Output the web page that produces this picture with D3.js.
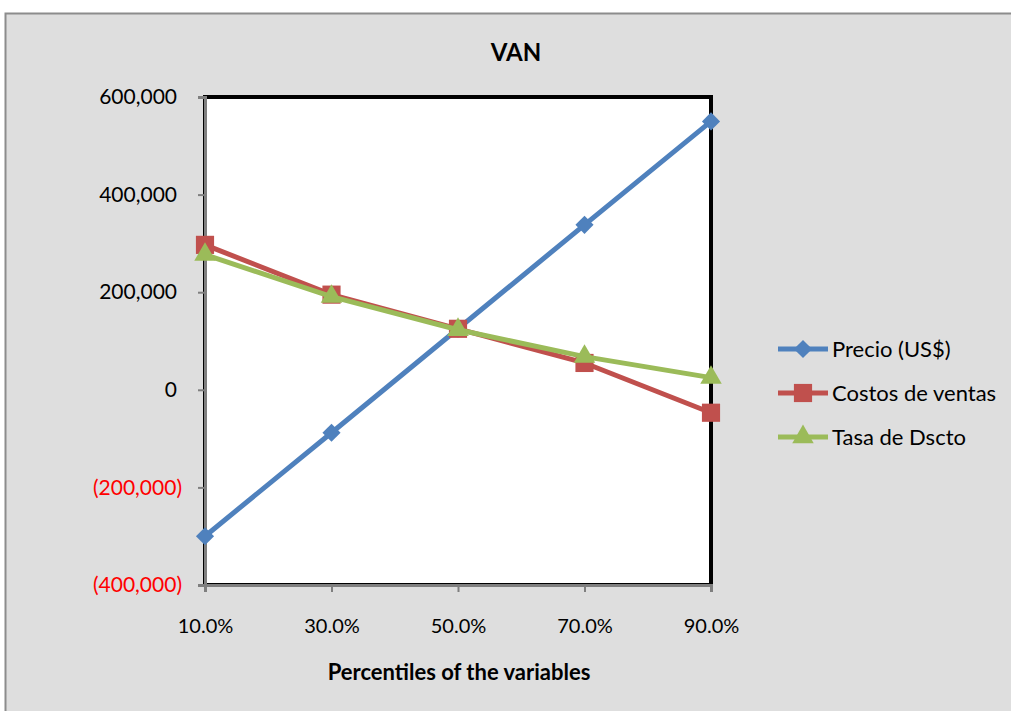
<!DOCTYPE html>
<html lang="es">
<head>
<meta charset="UTF-8">
<title>VAN</title>
<style>
    body { margin: 0; background: #fff; overflow: hidden; }
    svg text { font-family: Lato, "Open Sans", sans-serif; }
</style>
</head>
<body>
<script src="https://d3js.org/d3.v7.min.js"></script>
<script>
    // percentiles on the x axis
    const percentiles = [10, 30, 50, 70, 90];
    const precio = [-300000, -88000, 125000, 338000, 550000];
    const costos = [297000, 195000, 125000, 55000, -47000];
    const tasa = [277000, 191000, 123000, 68000, 25000];
    const yTicks = [-400000, -200000, 0, 200000, 400000, 600000];
    const seriesNames = ["Precio (US$)", "Costos de ventas", "Tasa de Dscto"];

    const width = 1011, height = 711;
    const plot = {left: 205, right: 711, top: 97, bottom: 585};

    const svg = d3.select('body').append('svg')
        .attr('width', width)
        .attr('height', height);

    // chart area background + frame (right/bottom edges fall outside)
    svg.append('rect')
        .attr('x', 5.5).attr('y', 13.5)
        .attr('width', width + 20).attr('height', height)
        .attr('fill', '#dedede')
        .attr('stroke', '#8c8c8c')
        .attr('stroke-width', 2);

    const x = d3.scaleLinear().domain([10, 90]).range([plot.left, plot.right]);
    const y = d3.scaleLinear().domain([-400000, 600000]).range([plot.bottom, plot.top]);

    svg.append('rect')
        .attr('x', plot.left).attr('y', plot.top)
        .attr('width', plot.right - plot.left).attr('height', plot.bottom - plot.top)
        .attr('fill', '#fff')
        .attr('stroke', '#000')
        .attr('stroke-width', 4);

    const fmt = v => {
        const s = d3.format(',')(Math.abs(v));
        return v < 0 ? '(' + s + ')' : s;
    };

    const yAxis = svg.append('g')
        .attr('transform', `translate(${plot.left},0)`)
        .call(d3.axisLeft(y).tickValues(yTicks).tickFormat(fmt).tickSize(7).tickPadding(16));
    yAxis.select('.domain').attr('stroke', '#7f7f7f').attr('stroke-width', 3);
    yAxis.selectAll('.tick line').attr('stroke', '#7f7f7f').attr('stroke-width', 2);
    yAxis.selectAll('.tick text')
        .attr('font-size', 21)
        .attr('dx', d => d < 0 ? 0 : -5)
        .attr('fill', d => d < 0 ? '#ff0000' : '#000');

    const xAxis = svg.append('g')
        .attr('transform', `translate(0,${plot.bottom})`)
        .call(d3.axisBottom(x).tickValues(percentiles).tickFormat(d => d.toFixed(1) + '%').tickSize(7).tickPadding(27));
    xAxis.select('.domain').attr('stroke', '#7f7f7f').attr('stroke-width', 3);
    xAxis.selectAll('.tick text').attr('font-size', 20).attr('fill', '#000');
    xAxis.selectAll('.tick line').attr('stroke', '#7f7f7f').attr('stroke-width', 2);

    svg.append('text')
        .attr('x', 516).attr('y', 61)
        .attr('text-anchor', 'middle')
        .attr('font-size', 24).attr('font-weight', 'bold')
        .text('VAN');

    svg.append('text')
        .attr('x', 459).attr('y', 680)
        .attr('text-anchor', 'middle')
        .attr('font-size', 22).attr('font-weight', 'bold')
        .text('Percentiles of the variables');

    const series = [
        {name: seriesNames[0], values: precio, color: '#4f81bd', marker: d3.symbolDiamond2, size: 210},
        {name: seriesNames[1], values: costos, color: '#c0504d', marker: d3.symbolSquare, size: 330},
        {name: seriesNames[2], values: tasa, color: '#9bbb59', marker: d3.symbolTriangle, size: 200}
    ];

    const line = d3.line()
        .x((d, i) => x(percentiles[i]))
        .y(d => y(d));

    series.forEach(s => {
        svg.append('path')
            .datum(s.values)
            .attr('fill', 'none')
            .attr('stroke', s.color)
            .attr('stroke-width', 5)
            .attr('stroke-linejoin', 'round')
            .attr('d', line);
        svg.selectAll(null)
            .data(s.values)
            .enter().append('path')
            .attr('transform', (d, i) => `translate(${x(percentiles[i])},${y(d)})`)
            .attr('d', d3.symbol().type(s.marker).size(s.size))
            .attr('fill', s.color);
    });

    // legend
    const legend = svg.append('g').attr('transform', 'translate(778,349)');
    series.forEach((s, i) => {
        const g = legend.append('g').attr('transform', `translate(0,${i * 44})`);
        g.append('line')
            .attr('x1', 0).attr('x2', 50)
            .attr('stroke', s.color).attr('stroke-width', 5);
        g.append('path')
            .attr('transform', 'translate(25,0)')
            .attr('d', d3.symbol().type(s.marker).size(s.size))
            .attr('fill', s.color);
        g.append('text')
            .attr('x', 54).attr('dy', '0.35em')
            .attr('font-size', 22)
            .text(s.name);
    });
</script>
</body>
</html>
